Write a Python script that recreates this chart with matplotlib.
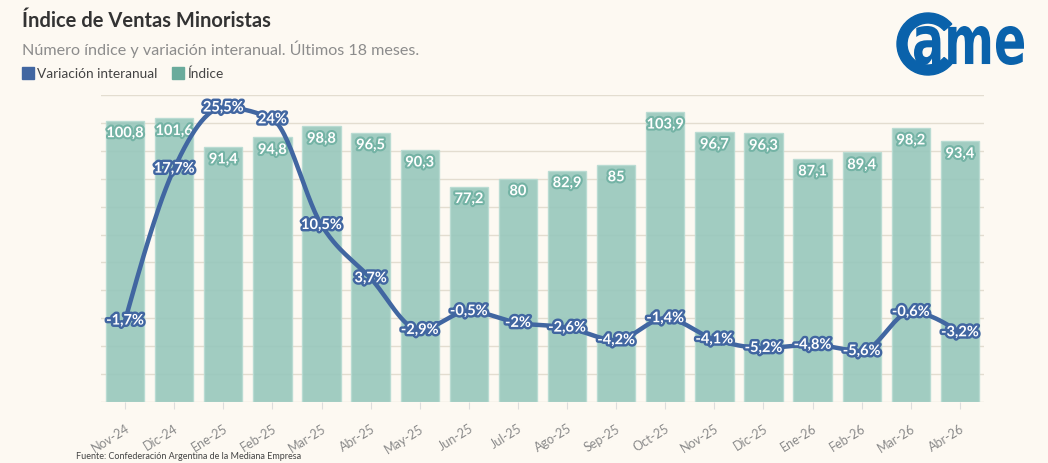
import numpy as np
import matplotlib.pyplot as plt
import matplotlib.patheffects as pe
from matplotlib.patches import Wedge, PathPatch, Rectangle
from matplotlib.textpath import TextPath
from matplotlib.font_manager import FontProperties
from matplotlib.transforms import Affine2D

plt.rcParams['font.family'] = ['Lato', 'DejaVu Sans']

# ===== datos =====
meses = ["Nov-24", "Dic-24", "Ene-25", "Feb-25", "Mar-25", "Abr-25", "May-25", "Jun-25",
         "Jul-25", "Ago-25", "Sep-25", "Oct-25", "Nov-25", "Dic-25", "Ene-26", "Feb-26",
         "Mar-26", "Abr-26"]
indice = [100.8, 101.6, 91.4, 94.8, 98.8, 96.5, 90.3, 77.2, 80, 82.9, 85, 103.9,
          96.7, 96.3, 87.1, 89.4, 98.2, 93.4]
variacion = [-1.7, 17.7, 25.5, 24, 10.5, 3.7, -2.9, -0.5, -2, -2.6, -4.2, -1.4,
             -4.1, -5.2, -4.8, -5.6, -0.6, -3.2]

BG = "#fdf9f2"
BLUE = "#4166a1"
TEAL = "#6aab9c"
BAR = "#97c7bc"


def fmt(v):
    s = ("%.1f" % v).rstrip("0").rstrip(".")
    return s.replace(".", ",")


def monotone(x, y, n=30):
    # curva monotona tipo d3.curveMonotoneX
    x = np.asarray(x, float)
    y = np.asarray(y, float)
    h = np.diff(x)
    s = np.diff(y) / h
    m = np.zeros_like(y)
    for k in range(1, len(y) - 1):
        p = (s[k - 1] * h[k] + s[k] * h[k - 1]) / (h[k - 1] + h[k])
        m[k] = (np.sign(s[k - 1]) + np.sign(s[k])) * min(abs(s[k - 1]), abs(s[k]), 0.5 * abs(p))
    m[0] = (3 * s[0] - m[1]) / 2
    m[-1] = (3 * s[-1] - m[-2]) / 2
    xs, ys = [], []
    for k in range(len(h)):
        t = np.linspace(0, 1, n)
        h00 = 2 * t**3 - 3 * t**2 + 1
        h10 = t**3 - 2 * t**2 + t
        h01 = -2 * t**3 + 3 * t**2
        h11 = t**3 - t**2
        xs.append(x[k] + t * h[k])
        ys.append(h00 * y[k] + h10 * h[k] * m[k] + h01 * y[k + 1] + h11 * h[k] * m[k + 1])
    return np.concatenate(xs), np.concatenate(ys)


fig = plt.figure(figsize=(10.48, 4.64), dpi=100, facecolor=BG)
ax = fig.add_axes([0.0959, 0.1315, 0.8435, 0.6616])
ax.set_facecolor(BG)
x = np.arange(len(meses))

ax.bar(x, indice, width=0.78, color=BAR, alpha=0.9, edgecolor="#b7dbd2", linewidth=1, zorder=2)
ax.set_ylim(0, 110)
ax.set_xlim(-0.5, len(meses) - 0.5)
ax.set_yticks(np.arange(0, 111, 10))
ax.yaxis.grid(True, color="#e3ddd0", linewidth=1)
ax.set_axisbelow(True)
ax.set_xticks(x)
ax.set_xticklabels(meses, rotation=32, ha="right", rotation_mode="anchor",
                   color="#8a8a8a", fontsize=9)
ax.tick_params(axis="x", length=5, color="#dddddd", pad=9)
for sp in ax.spines.values():
    sp.set_visible(False)

for xi, v in zip(x, indice):
    ax.annotate(fmt(v), (xi, v), xytext=(0, -9), textcoords="offset points",
                ha="center", va="center", color="white", fontsize=10.5, fontweight="bold",
                path_effects=[pe.withStroke(linewidth=3, foreground="#74b3a5")], zorder=5)

ax2 = ax.twinx()
ax2.set_ylim(-12.1, 27.1)
ax2.axis("off")
ax.tick_params(axis="y", left=False, right=False, labelleft=False, labelright=False)
cx, cy = monotone(x, variacion)
ax2.plot(cx, cy, color=BLUE, linewidth=3.2, solid_capstyle="round", zorder=4)
for xi, v in zip(x, variacion):
    ax2.text(xi, v, fmt(v) + "%", ha="center", va="center", color="white", fontsize=10.5,
             fontweight="bold", path_effects=[pe.withStroke(linewidth=3.5, foreground=BLUE)],
             zorder=6)

# ===== titulos y leyenda =====
fig.text(22 / 1048, 1 - 21 / 464, "Índice de Ventas Minoristas", fontsize=14.5,
         fontweight="bold", color="#333333", va="center")
fig.text(22 / 1048, 1 - 49 / 464, "Número índice y variación interanual. Últimos 18 meses.",
         fontsize=11.6, color="#8c8c8c", va="center")

ov = fig.add_axes([0, 0, 1, 1], zorder=-1)
ov.set_xlim(0, 1048)
ov.set_ylim(464, 0)
ov.axis("off")
ov.add_patch(Rectangle((22, 68), 12, 12, color=BLUE))
ov.add_patch(Rectangle((172, 68), 12, 12, color=TEAL))
fig.text(37 / 1048, 1 - 74 / 464, "Variación interanual", fontsize=9.8, color="#444444", va="center")
fig.text(187 / 1048, 1 - 74 / 464, "Índice", fontsize=9.8, color="#444444", va="center")
fig.text(76 / 1048, 1 - 457 / 464, "Fuente: Confederación Argentina de la Mediana Empresa",
         fontsize=6.5, color="#444444", va="center")

# logo
LOGO = "#0a62ab"
ov.add_patch(Wedge((928, 45), 31, 40, 320, width=10, color=LOGO))
tp = TextPath((0, 0), "ame", size=10, prop=FontProperties(family="DejaVu Sans", weight="bold"))
ext = tp.get_extents()
sx = (1024 - 914) / ext.width
sy = (66 - 27) / ext.height
tr = Affine2D().translate(-ext.x0, -ext.y0).scale(sx, -sy).translate(914, 66) + ov.transData
ov.add_patch(PathPatch(tp, color=LOGO, transform=tr, lw=0))

fig.savefig("out.png", dpi=100, facecolor=BG)
